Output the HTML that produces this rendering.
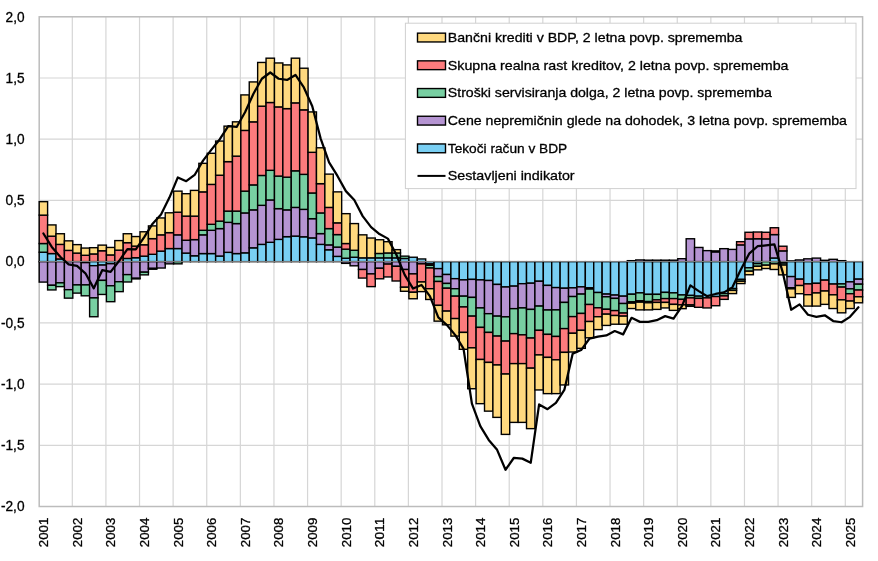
<!DOCTYPE html>
<html lang="sl"><head><meta charset="utf-8"><title>Sestavljeni indikator</title>
<style>html,body{margin:0;padding:0;background:#fff}body{width:878px;height:561px;overflow:hidden}svg{display:block}text{font-family:"Liberation Sans",sans-serif;fill:#000;stroke:#000;stroke-width:0.3px}</style></head><body>
<svg width="878" height="561" viewBox="0 0 878 561">
<rect width="878" height="561" fill="#fff"/>
<path d="M39.2 78.01H862.6M39.2 139.22H862.6M39.2 200.44H862.6M39.2 322.86H862.6M39.2 384.07H862.6M39.2 445.29H862.6M72.31 16.8V506.5M105.92 16.8V506.5M139.52 16.8V506.5M173.13 16.8V506.5M206.74 16.8V506.5M240.35 16.8V506.5M273.96 16.8V506.5M307.57 16.8V506.5M341.17 16.8V506.5M374.78 16.8V506.5M408.39 16.8V506.5M442 16.8V506.5M475.61 16.8V506.5M509.21 16.8V506.5M542.82 16.8V506.5M576.43 16.8V506.5M610.04 16.8V506.5M643.65 16.8V506.5M677.26 16.8V506.5M710.86 16.8V506.5M744.47 16.8V506.5M778.08 16.8V506.5M811.69 16.8V506.5M845.3 16.8V506.5" stroke="#d6d6d6" stroke-width="1.2" fill="none"/>
<rect x="39.2" y="16.8" width="823.4" height="489.7" fill="none" stroke="#bcbcbc" stroke-width="1.5"/>
<g stroke="#000" stroke-width="1.4" stroke-linejoin="miter">
<rect x="39.2" y="252.22" width="8.4" height="9.43" fill="#79CFF3"/>
<rect x="39.2" y="243.53" width="8.4" height="8.69" fill="#78CFA2"/>
<rect x="39.2" y="215.13" width="8.4" height="28.4" fill="#FC7B7D"/>
<rect x="39.2" y="201.66" width="8.4" height="13.47" fill="#FFD97F"/>
<rect x="39.2" y="261.65" width="8.4" height="20.44" fill="#B594D2"/>
<rect x="47.6" y="253.57" width="8.4" height="8.08" fill="#79CFF3"/>
<rect x="47.6" y="236.19" width="8.4" height="17.38" fill="#FC7B7D"/>
<rect x="47.6" y="224.92" width="8.4" height="11.26" fill="#FFD97F"/>
<rect x="47.6" y="261.65" width="8.4" height="23.63" fill="#B594D2"/>
<rect x="47.6" y="285.28" width="8.4" height="4.65" fill="#78CFA2"/>
<rect x="56" y="258.96" width="8.4" height="2.69" fill="#79CFF3"/>
<rect x="56" y="244.39" width="8.4" height="14.57" fill="#FC7B7D"/>
<rect x="56" y="233.74" width="8.4" height="10.65" fill="#FFD97F"/>
<rect x="56" y="261.65" width="8.4" height="21.18" fill="#B594D2"/>
<rect x="56" y="282.83" width="8.4" height="3.8" fill="#78CFA2"/>
<rect x="64.41" y="250.39" width="8.4" height="11.26" fill="#FC7B7D"/>
<rect x="64.41" y="240.84" width="8.4" height="9.55" fill="#FFD97F"/>
<rect x="64.41" y="261.65" width="8.4" height="28.04" fill="#B594D2"/>
<rect x="64.41" y="289.69" width="8.4" height="8.45" fill="#78CFA2"/>
<rect x="72.81" y="253.08" width="8.4" height="8.57" fill="#FC7B7D"/>
<rect x="72.81" y="244.63" width="8.4" height="8.45" fill="#FFD97F"/>
<rect x="72.81" y="261.65" width="8.4" height="23.26" fill="#B594D2"/>
<rect x="72.81" y="284.91" width="8.4" height="8.2" fill="#78CFA2"/>
<rect x="81.21" y="255.28" width="8.4" height="6.37" fill="#FC7B7D"/>
<rect x="81.21" y="248.06" width="8.4" height="7.22" fill="#FFD97F"/>
<rect x="81.21" y="261.65" width="8.4" height="0.98" fill="#79CFF3"/>
<rect x="81.21" y="262.63" width="8.4" height="22.28" fill="#B594D2"/>
<rect x="81.21" y="284.91" width="8.4" height="10.9" fill="#78CFA2"/>
<rect x="89.61" y="253.94" width="8.4" height="7.71" fill="#FC7B7D"/>
<rect x="89.61" y="247.69" width="8.4" height="6.24" fill="#FFD97F"/>
<rect x="89.61" y="261.65" width="8.4" height="4.04" fill="#79CFF3"/>
<rect x="89.61" y="265.69" width="8.4" height="32.2" fill="#B594D2"/>
<rect x="89.61" y="297.89" width="8.4" height="18.85" fill="#78CFA2"/>
<rect x="98.01" y="250.75" width="8.4" height="10.9" fill="#FC7B7D"/>
<rect x="98.01" y="245.12" width="8.4" height="5.63" fill="#FFD97F"/>
<rect x="98.01" y="261.65" width="8.4" height="3.43" fill="#79CFF3"/>
<rect x="98.01" y="265.08" width="8.4" height="15.3" fill="#B594D2"/>
<rect x="98.01" y="280.38" width="8.4" height="14.08" fill="#78CFA2"/>
<rect x="106.42" y="254.92" width="8.4" height="6.73" fill="#FC7B7D"/>
<rect x="106.42" y="247.45" width="8.4" height="7.47" fill="#FFD97F"/>
<rect x="106.42" y="261.65" width="8.4" height="2.08" fill="#79CFF3"/>
<rect x="106.42" y="263.73" width="8.4" height="22.04" fill="#B594D2"/>
<rect x="106.42" y="285.77" width="8.4" height="15.92" fill="#78CFA2"/>
<rect x="114.82" y="250.14" width="8.4" height="11.51" fill="#FC7B7D"/>
<rect x="114.82" y="240.59" width="8.4" height="9.55" fill="#FFD97F"/>
<rect x="114.82" y="261.65" width="8.4" height="20.08" fill="#B594D2"/>
<rect x="114.82" y="281.73" width="8.4" height="9.92" fill="#78CFA2"/>
<rect x="123.22" y="258.47" width="8.4" height="3.18" fill="#79CFF3"/>
<rect x="123.22" y="242.67" width="8.4" height="15.79" fill="#FC7B7D"/>
<rect x="123.22" y="233.74" width="8.4" height="8.94" fill="#FFD97F"/>
<rect x="123.22" y="261.65" width="8.4" height="12.98" fill="#B594D2"/>
<rect x="123.22" y="274.63" width="8.4" height="7.35" fill="#78CFA2"/>
<rect x="131.62" y="257.73" width="8.4" height="3.92" fill="#79CFF3"/>
<rect x="131.62" y="246.1" width="8.4" height="11.63" fill="#FC7B7D"/>
<rect x="131.62" y="236.55" width="8.4" height="9.55" fill="#FFD97F"/>
<rect x="131.62" y="261.65" width="8.4" height="16.65" fill="#B594D2"/>
<rect x="131.62" y="278.3" width="8.4" height="0.61" fill="#78CFA2"/>
<rect x="140.02" y="256.14" width="8.4" height="5.51" fill="#79CFF3"/>
<rect x="140.02" y="244.76" width="8.4" height="11.39" fill="#FC7B7D"/>
<rect x="140.02" y="231.78" width="8.4" height="12.98" fill="#FFD97F"/>
<rect x="140.02" y="261.65" width="8.4" height="10.53" fill="#B594D2"/>
<rect x="140.02" y="272.18" width="8.4" height="2.69" fill="#78CFA2"/>
<rect x="148.43" y="254.3" width="8.4" height="7.35" fill="#79CFF3"/>
<rect x="148.43" y="238.63" width="8.4" height="15.67" fill="#FC7B7D"/>
<rect x="148.43" y="225.9" width="8.4" height="12.73" fill="#FFD97F"/>
<rect x="148.43" y="261.65" width="8.4" height="6.73" fill="#B594D2"/>
<rect x="148.43" y="268.38" width="8.4" height="0.86" fill="#78CFA2"/>
<rect x="156.83" y="251.12" width="8.4" height="10.53" fill="#79CFF3"/>
<rect x="156.83" y="234.84" width="8.4" height="16.28" fill="#FC7B7D"/>
<rect x="156.83" y="217.94" width="8.4" height="16.89" fill="#FFD97F"/>
<rect x="156.83" y="261.65" width="8.4" height="6.37" fill="#B594D2"/>
<rect x="165.23" y="248.55" width="8.4" height="13.1" fill="#79CFF3"/>
<rect x="165.23" y="232.64" width="8.4" height="15.92" fill="#FC7B7D"/>
<rect x="165.23" y="212.8" width="8.4" height="19.83" fill="#FFD97F"/>
<rect x="165.23" y="261.65" width="8.4" height="2.2" fill="#B594D2"/>
<rect x="173.63" y="248.55" width="8.4" height="13.1" fill="#79CFF3"/>
<rect x="173.63" y="234.84" width="8.4" height="13.71" fill="#B594D2"/>
<rect x="173.63" y="212.19" width="8.4" height="22.65" fill="#FC7B7D"/>
<rect x="173.63" y="191.13" width="8.4" height="21.06" fill="#FFD97F"/>
<rect x="173.63" y="261.65" width="8.4" height="2.2" fill="#78CFA2"/>
<rect x="182.03" y="253.08" width="8.4" height="8.57" fill="#79CFF3"/>
<rect x="182.03" y="240.23" width="8.4" height="12.85" fill="#B594D2"/>
<rect x="182.03" y="216.11" width="8.4" height="24.12" fill="#FC7B7D"/>
<rect x="182.03" y="193.7" width="8.4" height="22.4" fill="#FFD97F"/>
<rect x="190.44" y="255.77" width="8.4" height="5.88" fill="#79CFF3"/>
<rect x="190.44" y="239.61" width="8.4" height="16.16" fill="#B594D2"/>
<rect x="190.44" y="216.11" width="8.4" height="23.51" fill="#FC7B7D"/>
<rect x="190.44" y="190.4" width="8.4" height="25.71" fill="#FFD97F"/>
<rect x="198.84" y="253.57" width="8.4" height="8.08" fill="#79CFF3"/>
<rect x="198.84" y="234.84" width="8.4" height="18.73" fill="#B594D2"/>
<rect x="198.84" y="230.31" width="8.4" height="4.53" fill="#78CFA2"/>
<rect x="198.84" y="191.87" width="8.4" height="38.44" fill="#FC7B7D"/>
<rect x="198.84" y="163.34" width="8.4" height="28.53" fill="#FFD97F"/>
<rect x="207.24" y="253.57" width="8.4" height="8.08" fill="#79CFF3"/>
<rect x="207.24" y="230.31" width="8.4" height="23.26" fill="#B594D2"/>
<rect x="207.24" y="224.31" width="8.4" height="6" fill="#78CFA2"/>
<rect x="207.24" y="184.4" width="8.4" height="39.91" fill="#FC7B7D"/>
<rect x="207.24" y="153.3" width="8.4" height="31.1" fill="#FFD97F"/>
<rect x="215.64" y="256.02" width="8.4" height="5.63" fill="#79CFF3"/>
<rect x="215.64" y="228.6" width="8.4" height="27.42" fill="#B594D2"/>
<rect x="215.64" y="221.13" width="8.4" height="7.47" fill="#78CFA2"/>
<rect x="215.64" y="175.22" width="8.4" height="45.91" fill="#FC7B7D"/>
<rect x="215.64" y="141.06" width="8.4" height="34.16" fill="#FFD97F"/>
<rect x="224.04" y="252.35" width="8.4" height="9.3" fill="#79CFF3"/>
<rect x="224.04" y="222.35" width="8.4" height="29.99" fill="#B594D2"/>
<rect x="224.04" y="211.09" width="8.4" height="11.26" fill="#78CFA2"/>
<rect x="224.04" y="161.63" width="8.4" height="49.46" fill="#FC7B7D"/>
<rect x="224.04" y="126.13" width="8.4" height="35.5" fill="#FFD97F"/>
<rect x="232.45" y="253.57" width="8.4" height="8.08" fill="#79CFF3"/>
<rect x="232.45" y="223.58" width="8.4" height="29.99" fill="#B594D2"/>
<rect x="232.45" y="211.09" width="8.4" height="12.49" fill="#78CFA2"/>
<rect x="232.45" y="156.12" width="8.4" height="54.97" fill="#FC7B7D"/>
<rect x="232.45" y="121.84" width="8.4" height="34.28" fill="#FFD97F"/>
<rect x="240.85" y="252.84" width="8.4" height="8.81" fill="#79CFF3"/>
<rect x="240.85" y="212.92" width="8.4" height="39.91" fill="#B594D2"/>
<rect x="240.85" y="191.13" width="8.4" height="21.79" fill="#78CFA2"/>
<rect x="240.85" y="130.41" width="8.4" height="60.72" fill="#FC7B7D"/>
<rect x="240.85" y="94.91" width="8.4" height="35.5" fill="#FFD97F"/>
<rect x="249.25" y="247.82" width="8.4" height="13.83" fill="#79CFF3"/>
<rect x="249.25" y="209.86" width="8.4" height="37.95" fill="#B594D2"/>
<rect x="249.25" y="184.89" width="8.4" height="24.97" fill="#78CFA2"/>
<rect x="249.25" y="121.84" width="8.4" height="63.05" fill="#FC7B7D"/>
<rect x="249.25" y="81.93" width="8.4" height="39.91" fill="#FFD97F"/>
<rect x="257.65" y="244.39" width="8.4" height="17.26" fill="#79CFF3"/>
<rect x="257.65" y="205.33" width="8.4" height="39.05" fill="#B594D2"/>
<rect x="257.65" y="175.46" width="8.4" height="29.87" fill="#78CFA2"/>
<rect x="257.65" y="106.17" width="8.4" height="69.29" fill="#FC7B7D"/>
<rect x="257.65" y="62.46" width="8.4" height="43.71" fill="#FFD97F"/>
<rect x="266.06" y="242.31" width="8.4" height="19.34" fill="#79CFF3"/>
<rect x="266.06" y="199.95" width="8.4" height="42.36" fill="#B594D2"/>
<rect x="266.06" y="170.32" width="8.4" height="29.63" fill="#78CFA2"/>
<rect x="266.06" y="102.5" width="8.4" height="67.82" fill="#FC7B7D"/>
<rect x="266.06" y="58.18" width="8.4" height="44.32" fill="#FFD97F"/>
<rect x="274.46" y="239.37" width="8.4" height="22.28" fill="#79CFF3"/>
<rect x="274.46" y="208.64" width="8.4" height="30.73" fill="#B594D2"/>
<rect x="274.46" y="176.07" width="8.4" height="32.57" fill="#78CFA2"/>
<rect x="274.46" y="106.9" width="8.4" height="69.17" fill="#FC7B7D"/>
<rect x="274.46" y="62.95" width="8.4" height="43.95" fill="#FFD97F"/>
<rect x="282.86" y="236.68" width="8.4" height="24.97" fill="#79CFF3"/>
<rect x="282.86" y="209.86" width="8.4" height="26.81" fill="#B594D2"/>
<rect x="282.86" y="177.18" width="8.4" height="32.69" fill="#78CFA2"/>
<rect x="282.86" y="108.62" width="8.4" height="68.56" fill="#FC7B7D"/>
<rect x="282.86" y="64.91" width="8.4" height="43.71" fill="#FFD97F"/>
<rect x="291.26" y="236.06" width="8.4" height="25.59" fill="#79CFF3"/>
<rect x="291.26" y="207.42" width="8.4" height="28.65" fill="#B594D2"/>
<rect x="291.26" y="170.81" width="8.4" height="36.61" fill="#78CFA2"/>
<rect x="291.26" y="102.86" width="8.4" height="67.95" fill="#FC7B7D"/>
<rect x="291.26" y="58.18" width="8.4" height="44.69" fill="#FFD97F"/>
<rect x="299.66" y="236.8" width="8.4" height="24.85" fill="#79CFF3"/>
<rect x="299.66" y="209.37" width="8.4" height="27.42" fill="#B594D2"/>
<rect x="299.66" y="174.36" width="8.4" height="35.01" fill="#78CFA2"/>
<rect x="299.66" y="109.84" width="8.4" height="64.52" fill="#FC7B7D"/>
<rect x="299.66" y="68.22" width="8.4" height="41.62" fill="#FFD97F"/>
<rect x="308.07" y="237.9" width="8.4" height="23.75" fill="#79CFF3"/>
<rect x="308.07" y="218.68" width="8.4" height="19.22" fill="#B594D2"/>
<rect x="308.07" y="192.97" width="8.4" height="25.71" fill="#78CFA2"/>
<rect x="308.07" y="152.32" width="8.4" height="40.65" fill="#FC7B7D"/>
<rect x="308.07" y="111.92" width="8.4" height="40.4" fill="#FFD97F"/>
<rect x="316.47" y="244.39" width="8.4" height="17.26" fill="#79CFF3"/>
<rect x="316.47" y="233.61" width="8.4" height="10.77" fill="#B594D2"/>
<rect x="316.47" y="212.92" width="8.4" height="20.69" fill="#78CFA2"/>
<rect x="316.47" y="183.67" width="8.4" height="29.26" fill="#FC7B7D"/>
<rect x="316.47" y="147.79" width="8.4" height="35.87" fill="#FFD97F"/>
<rect x="324.87" y="249.77" width="8.4" height="11.88" fill="#79CFF3"/>
<rect x="324.87" y="244.88" width="8.4" height="4.9" fill="#B594D2"/>
<rect x="324.87" y="228.6" width="8.4" height="16.28" fill="#78CFA2"/>
<rect x="324.87" y="207.42" width="8.4" height="21.18" fill="#FC7B7D"/>
<rect x="324.87" y="174.12" width="8.4" height="33.3" fill="#FFD97F"/>
<rect x="333.27" y="256.39" width="8.4" height="5.26" fill="#79CFF3"/>
<rect x="333.27" y="247.08" width="8.4" height="9.3" fill="#B594D2"/>
<rect x="333.27" y="234.59" width="8.4" height="12.49" fill="#78CFA2"/>
<rect x="333.27" y="222.84" width="8.4" height="11.75" fill="#FC7B7D"/>
<rect x="333.27" y="191.87" width="8.4" height="30.97" fill="#FFD97F"/>
<rect x="341.67" y="258.22" width="8.4" height="3.43" fill="#79CFF3"/>
<rect x="341.67" y="249.16" width="8.4" height="9.06" fill="#78CFA2"/>
<rect x="341.67" y="243.53" width="8.4" height="5.63" fill="#FC7B7D"/>
<rect x="341.67" y="213.66" width="8.4" height="29.87" fill="#FFD97F"/>
<rect x="341.67" y="261.65" width="8.4" height="1.71" fill="#B594D2"/>
<rect x="350.08" y="257.24" width="8.4" height="4.41" fill="#79CFF3"/>
<rect x="350.08" y="250.26" width="8.4" height="6.98" fill="#78CFA2"/>
<rect x="350.08" y="223.58" width="8.4" height="26.69" fill="#FFD97F"/>
<rect x="350.08" y="261.65" width="8.4" height="4.16" fill="#B594D2"/>
<rect x="358.48" y="257.85" width="8.4" height="3.8" fill="#79CFF3"/>
<rect x="358.48" y="234.84" width="8.4" height="23.02" fill="#FFD97F"/>
<rect x="358.48" y="261.65" width="8.4" height="7.84" fill="#B594D2"/>
<rect x="358.48" y="269.49" width="8.4" height="8.57" fill="#FC7B7D"/>
<rect x="366.88" y="257.85" width="8.4" height="3.8" fill="#79CFF3"/>
<rect x="366.88" y="238.02" width="8.4" height="19.83" fill="#FFD97F"/>
<rect x="366.88" y="261.65" width="8.4" height="12.24" fill="#B594D2"/>
<rect x="366.88" y="273.89" width="8.4" height="12.73" fill="#FC7B7D"/>
<rect x="375.28" y="257.85" width="8.4" height="3.8" fill="#79CFF3"/>
<rect x="375.28" y="253.45" width="8.4" height="4.41" fill="#78CFA2"/>
<rect x="375.28" y="239.74" width="8.4" height="13.71" fill="#FFD97F"/>
<rect x="375.28" y="261.65" width="8.4" height="6.61" fill="#B594D2"/>
<rect x="375.28" y="268.26" width="8.4" height="10.53" fill="#FC7B7D"/>
<rect x="383.68" y="257.85" width="8.4" height="3.8" fill="#79CFF3"/>
<rect x="383.68" y="252.96" width="8.4" height="4.9" fill="#78CFA2"/>
<rect x="383.68" y="241.69" width="8.4" height="11.26" fill="#FFD97F"/>
<rect x="383.68" y="261.65" width="8.4" height="2.45" fill="#B594D2"/>
<rect x="383.68" y="264.1" width="8.4" height="12.85" fill="#FC7B7D"/>
<rect x="392.09" y="257.85" width="8.4" height="3.8" fill="#79CFF3"/>
<rect x="392.09" y="252.96" width="8.4" height="4.9" fill="#78CFA2"/>
<rect x="392.09" y="249.65" width="8.4" height="3.31" fill="#FFD97F"/>
<rect x="392.09" y="261.65" width="8.4" height="4.65" fill="#B594D2"/>
<rect x="392.09" y="266.3" width="8.4" height="14.69" fill="#FC7B7D"/>
<rect x="400.49" y="258.47" width="8.4" height="3.18" fill="#79CFF3"/>
<rect x="400.49" y="256.14" width="8.4" height="2.33" fill="#78CFA2"/>
<rect x="400.49" y="261.65" width="8.4" height="7.84" fill="#B594D2"/>
<rect x="400.49" y="269.49" width="8.4" height="17.75" fill="#FC7B7D"/>
<rect x="400.49" y="287.24" width="8.4" height="4.04" fill="#FFD97F"/>
<rect x="408.89" y="257.24" width="8.4" height="4.41" fill="#79CFF3"/>
<rect x="408.89" y="261.65" width="8.4" height="12.24" fill="#B594D2"/>
<rect x="408.89" y="273.89" width="8.4" height="18.36" fill="#FC7B7D"/>
<rect x="408.89" y="292.26" width="8.4" height="6.49" fill="#FFD97F"/>
<rect x="417.29" y="258.96" width="8.4" height="2.69" fill="#79CFF3"/>
<rect x="417.29" y="261.65" width="8.4" height="2.2" fill="#B594D2"/>
<rect x="417.29" y="263.85" width="8.4" height="18.12" fill="#FC7B7D"/>
<rect x="417.29" y="281.97" width="8.4" height="9.67" fill="#FFD97F"/>
<rect x="425.69" y="261.65" width="8.4" height="2.2" fill="#79CFF3"/>
<rect x="425.69" y="263.85" width="8.4" height="1.47" fill="#B594D2"/>
<rect x="425.69" y="265.32" width="8.4" height="2.69" fill="#78CFA2"/>
<rect x="425.69" y="268.02" width="8.4" height="20.69" fill="#FC7B7D"/>
<rect x="425.69" y="288.71" width="8.4" height="10.77" fill="#FFD97F"/>
<rect x="434.1" y="261.65" width="8.4" height="6.98" fill="#79CFF3"/>
<rect x="434.1" y="268.63" width="8.4" height="7.96" fill="#B594D2"/>
<rect x="434.1" y="276.59" width="8.4" height="4.9" fill="#78CFA2"/>
<rect x="434.1" y="281.48" width="8.4" height="23.87" fill="#FC7B7D"/>
<rect x="434.1" y="305.36" width="8.4" height="15.79" fill="#FFD97F"/>
<rect x="442.5" y="261.65" width="8.4" height="12.85" fill="#79CFF3"/>
<rect x="442.5" y="274.5" width="8.4" height="8.94" fill="#B594D2"/>
<rect x="442.5" y="283.44" width="8.4" height="4.77" fill="#78CFA2"/>
<rect x="442.5" y="288.22" width="8.4" height="22.89" fill="#FC7B7D"/>
<rect x="442.5" y="311.11" width="8.4" height="13.71" fill="#FFD97F"/>
<rect x="450.9" y="261.65" width="8.4" height="17.02" fill="#79CFF3"/>
<rect x="450.9" y="278.67" width="8.4" height="10.04" fill="#B594D2"/>
<rect x="450.9" y="288.71" width="8.4" height="7.47" fill="#78CFA2"/>
<rect x="450.9" y="296.17" width="8.4" height="22.4" fill="#FC7B7D"/>
<rect x="450.9" y="318.58" width="8.4" height="17.51" fill="#FFD97F"/>
<rect x="459.3" y="261.65" width="8.4" height="18.24" fill="#79CFF3"/>
<rect x="459.3" y="279.89" width="8.4" height="16.28" fill="#B594D2"/>
<rect x="459.3" y="296.17" width="8.4" height="10.77" fill="#78CFA2"/>
<rect x="459.3" y="306.95" width="8.4" height="25.46" fill="#FC7B7D"/>
<rect x="459.3" y="332.41" width="8.4" height="16.89" fill="#FFD97F"/>
<rect x="467.7" y="261.65" width="8.4" height="17.75" fill="#79CFF3"/>
<rect x="467.7" y="279.4" width="8.4" height="18" fill="#B594D2"/>
<rect x="467.7" y="297.4" width="8.4" height="18.73" fill="#78CFA2"/>
<rect x="467.7" y="316.13" width="8.4" height="31.71" fill="#FC7B7D"/>
<rect x="467.7" y="347.84" width="8.4" height="40.89" fill="#FFD97F"/>
<rect x="476.11" y="261.65" width="8.4" height="18.24" fill="#79CFF3"/>
<rect x="476.11" y="279.89" width="8.4" height="28.04" fill="#B594D2"/>
<rect x="476.11" y="307.93" width="8.4" height="19.47" fill="#78CFA2"/>
<rect x="476.11" y="327.39" width="8.4" height="32.08" fill="#FC7B7D"/>
<rect x="476.11" y="359.47" width="8.4" height="44.2" fill="#FFD97F"/>
<rect x="484.51" y="261.65" width="8.4" height="18.85" fill="#79CFF3"/>
<rect x="484.51" y="280.5" width="8.4" height="33.18" fill="#B594D2"/>
<rect x="484.51" y="313.68" width="8.4" height="18.73" fill="#78CFA2"/>
<rect x="484.51" y="332.41" width="8.4" height="29.99" fill="#FC7B7D"/>
<rect x="484.51" y="362.41" width="8.4" height="48.73" fill="#FFD97F"/>
<rect x="492.91" y="261.65" width="8.4" height="22.77" fill="#79CFF3"/>
<rect x="492.91" y="284.42" width="8.4" height="31.71" fill="#B594D2"/>
<rect x="492.91" y="316.13" width="8.4" height="19.96" fill="#78CFA2"/>
<rect x="492.91" y="336.08" width="8.4" height="28.89" fill="#FC7B7D"/>
<rect x="492.91" y="364.98" width="8.4" height="52.4" fill="#FFD97F"/>
<rect x="501.31" y="261.65" width="8.4" height="25.34" fill="#79CFF3"/>
<rect x="501.31" y="286.99" width="8.4" height="29.87" fill="#B594D2"/>
<rect x="501.31" y="316.86" width="8.4" height="24.24" fill="#78CFA2"/>
<rect x="501.31" y="341.1" width="8.4" height="32.93" fill="#FC7B7D"/>
<rect x="501.31" y="374.04" width="8.4" height="60.36" fill="#FFD97F"/>
<rect x="509.71" y="261.65" width="8.4" height="24.49" fill="#79CFF3"/>
<rect x="509.71" y="286.13" width="8.4" height="22.53" fill="#B594D2"/>
<rect x="509.71" y="308.66" width="8.4" height="24.97" fill="#78CFA2"/>
<rect x="509.71" y="333.64" width="8.4" height="29.99" fill="#FC7B7D"/>
<rect x="509.71" y="363.63" width="8.4" height="58.76" fill="#FFD97F"/>
<rect x="518.12" y="261.65" width="8.4" height="22.04" fill="#79CFF3"/>
<rect x="518.12" y="283.69" width="8.4" height="24.24" fill="#B594D2"/>
<rect x="518.12" y="307.93" width="8.4" height="26.93" fill="#78CFA2"/>
<rect x="518.12" y="334.86" width="8.4" height="28.77" fill="#FC7B7D"/>
<rect x="518.12" y="363.63" width="8.4" height="58.76" fill="#FFD97F"/>
<rect x="526.52" y="261.65" width="8.4" height="21.55" fill="#79CFF3"/>
<rect x="526.52" y="283.2" width="8.4" height="26.2" fill="#B594D2"/>
<rect x="526.52" y="309.4" width="8.4" height="28.65" fill="#78CFA2"/>
<rect x="526.52" y="338.04" width="8.4" height="30.12" fill="#FC7B7D"/>
<rect x="526.52" y="368.16" width="8.4" height="60.48" fill="#FFD97F"/>
<rect x="534.92" y="261.65" width="8.4" height="19.59" fill="#79CFF3"/>
<rect x="534.92" y="281.24" width="8.4" height="24.85" fill="#B594D2"/>
<rect x="534.92" y="306.09" width="8.4" height="24.24" fill="#78CFA2"/>
<rect x="534.92" y="330.33" width="8.4" height="24.61" fill="#FC7B7D"/>
<rect x="534.92" y="354.94" width="8.4" height="35.01" fill="#FFD97F"/>
<rect x="543.32" y="261.65" width="8.4" height="23.75" fill="#79CFF3"/>
<rect x="543.32" y="285.4" width="8.4" height="24.61" fill="#B594D2"/>
<rect x="543.32" y="310.01" width="8.4" height="24.36" fill="#78CFA2"/>
<rect x="543.32" y="334.37" width="8.4" height="23.02" fill="#FC7B7D"/>
<rect x="543.32" y="357.39" width="8.4" height="36.24" fill="#FFD97F"/>
<rect x="551.72" y="261.65" width="8.4" height="25.95" fill="#79CFF3"/>
<rect x="551.72" y="287.6" width="8.4" height="22.28" fill="#B594D2"/>
<rect x="551.72" y="309.89" width="8.4" height="26.57" fill="#78CFA2"/>
<rect x="551.72" y="336.45" width="8.4" height="23.38" fill="#FC7B7D"/>
<rect x="551.72" y="359.83" width="8.4" height="33.79" fill="#FFD97F"/>
<rect x="560.13" y="261.65" width="8.4" height="26.57" fill="#79CFF3"/>
<rect x="560.13" y="288.22" width="8.4" height="14.2" fill="#B594D2"/>
<rect x="560.13" y="302.42" width="8.4" height="26.2" fill="#78CFA2"/>
<rect x="560.13" y="328.62" width="8.4" height="23.75" fill="#FC7B7D"/>
<rect x="560.13" y="352.37" width="8.4" height="32.57" fill="#FFD97F"/>
<rect x="568.53" y="261.65" width="8.4" height="26.2" fill="#79CFF3"/>
<rect x="568.53" y="287.85" width="8.4" height="8.69" fill="#B594D2"/>
<rect x="568.53" y="296.54" width="8.4" height="20.08" fill="#78CFA2"/>
<rect x="568.53" y="316.62" width="8.4" height="16.65" fill="#FC7B7D"/>
<rect x="568.53" y="333.27" width="8.4" height="18.73" fill="#FFD97F"/>
<rect x="576.93" y="261.65" width="8.4" height="25.22" fill="#79CFF3"/>
<rect x="576.93" y="286.87" width="8.4" height="7.22" fill="#B594D2"/>
<rect x="576.93" y="294.09" width="8.4" height="19.34" fill="#78CFA2"/>
<rect x="576.93" y="313.44" width="8.4" height="16.89" fill="#FC7B7D"/>
<rect x="576.93" y="330.33" width="8.4" height="18" fill="#FFD97F"/>
<rect x="585.33" y="261.65" width="8.4" height="26.2" fill="#79CFF3"/>
<rect x="585.33" y="287.85" width="8.4" height="1.22" fill="#B594D2"/>
<rect x="585.33" y="289.07" width="8.4" height="15.43" fill="#78CFA2"/>
<rect x="585.33" y="304.5" width="8.4" height="17.02" fill="#FC7B7D"/>
<rect x="585.33" y="321.52" width="8.4" height="16.28" fill="#FFD97F"/>
<rect x="593.73" y="261.65" width="8.4" height="30.85" fill="#79CFF3"/>
<rect x="593.73" y="292.5" width="8.4" height="15.3" fill="#78CFA2"/>
<rect x="593.73" y="307.8" width="8.4" height="8.94" fill="#FC7B7D"/>
<rect x="593.73" y="316.74" width="8.4" height="12.85" fill="#FFD97F"/>
<rect x="602.14" y="261.65" width="8.4" height="32.44" fill="#79CFF3"/>
<rect x="602.14" y="294.09" width="8.4" height="2.69" fill="#B594D2"/>
<rect x="602.14" y="296.79" width="8.4" height="12.49" fill="#78CFA2"/>
<rect x="602.14" y="309.27" width="8.4" height="4.9" fill="#FC7B7D"/>
<rect x="602.14" y="314.17" width="8.4" height="11.26" fill="#FFD97F"/>
<rect x="610.54" y="261.65" width="8.4" height="33.42" fill="#79CFF3"/>
<rect x="610.54" y="295.07" width="8.4" height="3.31" fill="#B594D2"/>
<rect x="610.54" y="298.38" width="8.4" height="12.24" fill="#78CFA2"/>
<rect x="610.54" y="310.62" width="8.4" height="4.9" fill="#FC7B7D"/>
<rect x="610.54" y="315.52" width="8.4" height="8.69" fill="#FFD97F"/>
<rect x="618.94" y="261.65" width="8.4" height="34.52" fill="#79CFF3"/>
<rect x="618.94" y="296.17" width="8.4" height="7.35" fill="#B594D2"/>
<rect x="618.94" y="303.52" width="8.4" height="9.55" fill="#78CFA2"/>
<rect x="618.94" y="313.07" width="8.4" height="3.06" fill="#FC7B7D"/>
<rect x="618.94" y="316.13" width="8.4" height="8.08" fill="#FFD97F"/>
<rect x="627.34" y="260.67" width="8.4" height="0.98" fill="#B594D2"/>
<rect x="627.34" y="261.65" width="8.4" height="32.57" fill="#79CFF3"/>
<rect x="627.34" y="294.22" width="8.4" height="7.59" fill="#78CFA2"/>
<rect x="627.34" y="301.81" width="8.4" height="1.35" fill="#FC7B7D"/>
<rect x="627.34" y="303.15" width="8.4" height="5.39" fill="#FFD97F"/>
<rect x="635.74" y="259.94" width="8.4" height="1.71" fill="#B594D2"/>
<rect x="635.74" y="261.65" width="8.4" height="31.22" fill="#79CFF3"/>
<rect x="635.74" y="292.87" width="8.4" height="7.96" fill="#78CFA2"/>
<rect x="635.74" y="300.83" width="8.4" height="1.35" fill="#FC7B7D"/>
<rect x="635.74" y="302.17" width="8.4" height="7.71" fill="#FFD97F"/>
<rect x="644.15" y="260.18" width="8.4" height="1.47" fill="#B594D2"/>
<rect x="644.15" y="261.65" width="8.4" height="32.69" fill="#79CFF3"/>
<rect x="644.15" y="294.34" width="8.4" height="7.22" fill="#78CFA2"/>
<rect x="644.15" y="301.56" width="8.4" height="1.22" fill="#FC7B7D"/>
<rect x="644.15" y="302.78" width="8.4" height="7.1" fill="#FFD97F"/>
<rect x="652.55" y="260.18" width="8.4" height="1.47" fill="#B594D2"/>
<rect x="652.55" y="261.65" width="8.4" height="32.69" fill="#79CFF3"/>
<rect x="652.55" y="294.34" width="8.4" height="5.51" fill="#78CFA2"/>
<rect x="652.55" y="299.85" width="8.4" height="2.57" fill="#FC7B7D"/>
<rect x="652.55" y="302.42" width="8.4" height="6.98" fill="#FFD97F"/>
<rect x="660.95" y="260.18" width="8.4" height="1.47" fill="#B594D2"/>
<rect x="660.95" y="261.65" width="8.4" height="30.73" fill="#79CFF3"/>
<rect x="660.95" y="292.38" width="8.4" height="6.24" fill="#78CFA2"/>
<rect x="660.95" y="298.62" width="8.4" height="3.8" fill="#FC7B7D"/>
<rect x="660.95" y="302.42" width="8.4" height="5.51" fill="#FFD97F"/>
<rect x="669.35" y="260.18" width="8.4" height="1.47" fill="#B594D2"/>
<rect x="669.35" y="261.65" width="8.4" height="31.22" fill="#79CFF3"/>
<rect x="669.35" y="292.87" width="8.4" height="5.75" fill="#78CFA2"/>
<rect x="669.35" y="298.62" width="8.4" height="5.75" fill="#FC7B7D"/>
<rect x="669.35" y="304.38" width="8.4" height="6" fill="#FFD97F"/>
<rect x="677.76" y="258.71" width="8.4" height="2.94" fill="#B594D2"/>
<rect x="677.76" y="261.65" width="8.4" height="33.3" fill="#79CFF3"/>
<rect x="677.76" y="294.95" width="8.4" height="4.41" fill="#78CFA2"/>
<rect x="677.76" y="299.36" width="8.4" height="5.51" fill="#FC7B7D"/>
<rect x="677.76" y="304.87" width="8.4" height="3.8" fill="#FFD97F"/>
<rect x="686.16" y="238.76" width="8.4" height="22.89" fill="#B594D2"/>
<rect x="686.16" y="261.65" width="8.4" height="33.79" fill="#79CFF3"/>
<rect x="686.16" y="295.44" width="8.4" height="2.45" fill="#78CFA2"/>
<rect x="686.16" y="297.89" width="8.4" height="6.98" fill="#FC7B7D"/>
<rect x="686.16" y="304.87" width="8.4" height="1.47" fill="#FFD97F"/>
<rect x="694.56" y="247.45" width="8.4" height="14.2" fill="#B594D2"/>
<rect x="694.56" y="261.65" width="8.4" height="34.52" fill="#79CFF3"/>
<rect x="694.56" y="296.17" width="8.4" height="2.2" fill="#78CFA2"/>
<rect x="694.56" y="298.38" width="8.4" height="8.94" fill="#FC7B7D"/>
<rect x="702.96" y="250.63" width="8.4" height="11.02" fill="#B594D2"/>
<rect x="702.96" y="261.65" width="8.4" height="36.24" fill="#79CFF3"/>
<rect x="702.96" y="297.89" width="8.4" height="10.04" fill="#FC7B7D"/>
<rect x="711.36" y="251.86" width="8.4" height="9.79" fill="#B594D2"/>
<rect x="711.36" y="250.88" width="8.4" height="0.98" fill="#FFD97F"/>
<rect x="711.36" y="261.65" width="8.4" height="34.89" fill="#79CFF3"/>
<rect x="711.36" y="296.54" width="8.4" height="9.18" fill="#FC7B7D"/>
<rect x="719.77" y="248.67" width="8.4" height="12.98" fill="#B594D2"/>
<rect x="719.77" y="261.65" width="8.4" height="31.95" fill="#79CFF3"/>
<rect x="719.77" y="293.6" width="8.4" height="2.33" fill="#78CFA2"/>
<rect x="719.77" y="295.93" width="8.4" height="3.43" fill="#FC7B7D"/>
<rect x="728.17" y="249.41" width="8.4" height="12.24" fill="#B594D2"/>
<rect x="728.17" y="261.65" width="8.4" height="26.93" fill="#79CFF3"/>
<rect x="728.17" y="288.58" width="8.4" height="1.84" fill="#78CFA2"/>
<rect x="728.17" y="290.42" width="8.4" height="3.18" fill="#FFD97F"/>
<rect x="736.57" y="244.88" width="8.4" height="16.77" fill="#B594D2"/>
<rect x="736.57" y="241.69" width="8.4" height="3.18" fill="#FC7B7D"/>
<rect x="736.57" y="261.65" width="8.4" height="17.75" fill="#79CFF3"/>
<rect x="736.57" y="279.4" width="8.4" height="1.84" fill="#78CFA2"/>
<rect x="736.57" y="281.24" width="8.4" height="2.33" fill="#FFD97F"/>
<rect x="744.97" y="238.88" width="8.4" height="22.77" fill="#B594D2"/>
<rect x="744.97" y="232.27" width="8.4" height="6.61" fill="#FC7B7D"/>
<rect x="744.97" y="261.65" width="8.4" height="6.12" fill="#79CFF3"/>
<rect x="744.97" y="267.77" width="8.4" height="3.43" fill="#78CFA2"/>
<rect x="744.97" y="271.2" width="8.4" height="3.55" fill="#FFD97F"/>
<rect x="753.37" y="238.76" width="8.4" height="22.89" fill="#B594D2"/>
<rect x="753.37" y="232.02" width="8.4" height="6.73" fill="#FC7B7D"/>
<rect x="753.37" y="261.65" width="8.4" height="1.96" fill="#79CFF3"/>
<rect x="753.37" y="263.61" width="8.4" height="2.69" fill="#78CFA2"/>
<rect x="753.37" y="266.3" width="8.4" height="3.55" fill="#FFD97F"/>
<rect x="761.78" y="238.88" width="8.4" height="22.77" fill="#B594D2"/>
<rect x="761.78" y="232.27" width="8.4" height="6.61" fill="#FC7B7D"/>
<rect x="761.78" y="261.65" width="8.4" height="3.55" fill="#78CFA2"/>
<rect x="761.78" y="265.2" width="8.4" height="3.31" fill="#FFD97F"/>
<rect x="770.18" y="257.98" width="8.4" height="3.67" fill="#79CFF3"/>
<rect x="770.18" y="234.59" width="8.4" height="23.38" fill="#B594D2"/>
<rect x="770.18" y="227.74" width="8.4" height="6.86" fill="#FC7B7D"/>
<rect x="770.18" y="261.65" width="8.4" height="2.2" fill="#78CFA2"/>
<rect x="770.18" y="263.85" width="8.4" height="5.63" fill="#FFD97F"/>
<rect x="778.58" y="250.88" width="8.4" height="10.77" fill="#B594D2"/>
<rect x="778.58" y="246.22" width="8.4" height="4.65" fill="#FC7B7D"/>
<rect x="778.58" y="261.65" width="8.4" height="1.47" fill="#79CFF3"/>
<rect x="778.58" y="263.12" width="8.4" height="1.96" fill="#78CFA2"/>
<rect x="778.58" y="265.08" width="8.4" height="9.79" fill="#FFD97F"/>
<rect x="786.98" y="260.92" width="8.4" height="0.73" fill="#FC7B7D"/>
<rect x="786.98" y="261.65" width="8.4" height="14.94" fill="#79CFF3"/>
<rect x="786.98" y="276.59" width="8.4" height="11.14" fill="#B594D2"/>
<rect x="786.98" y="287.73" width="8.4" height="1.1" fill="#78CFA2"/>
<rect x="786.98" y="288.83" width="8.4" height="8.57" fill="#FFD97F"/>
<rect x="795.38" y="259.94" width="8.4" height="1.71" fill="#B594D2"/>
<rect x="795.38" y="261.65" width="8.4" height="17.51" fill="#79CFF3"/>
<rect x="795.38" y="279.16" width="8.4" height="6.37" fill="#FC7B7D"/>
<rect x="795.38" y="285.52" width="8.4" height="8.2" fill="#FFD97F"/>
<rect x="803.79" y="258.83" width="8.4" height="2.82" fill="#B594D2"/>
<rect x="803.79" y="261.65" width="8.4" height="22.28" fill="#79CFF3"/>
<rect x="803.79" y="283.93" width="8.4" height="10.77" fill="#FC7B7D"/>
<rect x="803.79" y="294.7" width="8.4" height="11.39" fill="#FFD97F"/>
<rect x="812.19" y="258.1" width="8.4" height="3.55" fill="#B594D2"/>
<rect x="812.19" y="261.65" width="8.4" height="21.67" fill="#79CFF3"/>
<rect x="812.19" y="283.32" width="8.4" height="9.67" fill="#FC7B7D"/>
<rect x="812.19" y="292.99" width="8.4" height="13.1" fill="#FFD97F"/>
<rect x="820.59" y="260.3" width="8.4" height="1.35" fill="#B594D2"/>
<rect x="820.59" y="261.65" width="8.4" height="18.49" fill="#79CFF3"/>
<rect x="820.59" y="280.14" width="8.4" height="10.9" fill="#FC7B7D"/>
<rect x="820.59" y="291.03" width="8.4" height="13.34" fill="#FFD97F"/>
<rect x="828.99" y="259.32" width="8.4" height="2.33" fill="#B594D2"/>
<rect x="828.99" y="261.65" width="8.4" height="22.4" fill="#79CFF3"/>
<rect x="828.99" y="284.05" width="8.4" height="10.77" fill="#FC7B7D"/>
<rect x="828.99" y="294.83" width="8.4" height="13.71" fill="#FFD97F"/>
<rect x="837.39" y="260.67" width="8.4" height="0.98" fill="#B594D2"/>
<rect x="837.39" y="261.65" width="8.4" height="22.28" fill="#79CFF3"/>
<rect x="837.39" y="283.93" width="8.4" height="3.18" fill="#78CFA2"/>
<rect x="837.39" y="287.11" width="8.4" height="12.73" fill="#FC7B7D"/>
<rect x="837.39" y="299.85" width="8.4" height="12.98" fill="#FFD97F"/>
<rect x="845.8" y="261.65" width="8.4" height="20.2" fill="#79CFF3"/>
<rect x="845.8" y="281.85" width="8.4" height="6.98" fill="#B594D2"/>
<rect x="845.8" y="288.83" width="8.4" height="4.9" fill="#78CFA2"/>
<rect x="845.8" y="293.73" width="8.4" height="7.35" fill="#FC7B7D"/>
<rect x="845.8" y="301.07" width="8.4" height="7.47" fill="#FFD97F"/>
<rect x="854.2" y="261.65" width="8.4" height="17.51" fill="#79CFF3"/>
<rect x="854.2" y="279.16" width="8.4" height="5.02" fill="#B594D2"/>
<rect x="854.2" y="284.18" width="8.4" height="5.88" fill="#78CFA2"/>
<rect x="854.2" y="290.05" width="8.4" height="6.73" fill="#FC7B7D"/>
<rect x="854.2" y="296.79" width="8.4" height="6" fill="#FFD97F"/>
</g>
<path d="M39.2 261.5H862.6" stroke="#d9d9d9" stroke-width="0.7" stroke-opacity="0.8" fill="none"/>
<polyline points="43.4,233.49 51.8,246.96 60.21,256.75 68.61,264.34 77.01,265.93 85.41,273.28 93.81,288.34 102.22,270.22 110.62,271.93 119.02,261.04 127.42,249.04 135.82,249.41 144.23,237.16 152.63,223.7 161.03,214.52 169.43,197.62 177.83,177.42 186.24,181.22 194.64,174.97 203.04,160.65 211.44,149.63 219.84,139.22 228.25,126.13 236.65,126.98 245.05,112.29 253.45,93.68 261.85,78.75 270.26,72.5 278.66,78.75 287.06,79.97 295.46,74.95 303.86,87.44 312.27,106.17 320.67,138.61 329.07,162.36 337.47,175.95 345.87,191.13 354.28,199.95 362.68,216.11 371.08,227.13 379.48,234.1 387.88,238.63 396.29,254.55 404.69,274.87 413.09,288.58 421.49,284.91 429.89,296.17 438.3,317.35 446.7,324.82 455.1,334.86 463.5,348.57 471.91,403.66 480.31,426.07 488.71,439.9 497.11,449.82 505.51,469.77 513.92,457.77 522.32,458.63 530.72,462.79 539.12,404.4 547.52,409.17 555.93,402.93 564.33,389.95 572.73,353.59 581.13,350.04 589.53,338.53 597.94,336.7 606.34,335.47 614.74,331.06 623.14,334.37 631.54,317.84 639.95,321.88 648.35,321.88 656.75,320.17 665.15,316.13 673.55,318.58 681.96,306.09 690.36,285.4 698.76,291.15 707.16,296.17 715.56,293.97 723.97,292.38 732.37,287.36 740.77,269.85 749.17,253.69 757.57,246.22 765.98,245.37 774.38,244.39 782.78,272.42 791.18,309.76 799.58,304.38 807.99,314.78 816.39,316.86 824.79,315.27 833.19,321.03 841.59,322.25 850,316.86 858.4,307.31" fill="none" stroke="#000" stroke-width="2.25" stroke-linejoin="round" stroke-linecap="round"/>
<rect x="405.4" y="23.2" width="450.6" height="165.4" fill="#fff" stroke="#d0d0d0" stroke-width="1"/>
<rect x="417.5" y="33.15" width="28" height="8.8" fill="#FFD97F" stroke="#000" stroke-width="1.4"/>
<text x="447.8" y="41.8" font-size="13.3" textLength="294.7" lengthAdjust="spacingAndGlyphs">Bančni krediti v BDP, 2 letna povp. sprememba</text>
<rect x="417.5" y="60.85" width="28" height="8.8" fill="#FC7B7D" stroke="#000" stroke-width="1.4"/>
<text x="447.8" y="69.5" font-size="13.3" textLength="340.7" lengthAdjust="spacingAndGlyphs">Skupna realna rast kreditov, 2 letna povp. sprememba</text>
<rect x="417.5" y="88.55" width="28" height="8.8" fill="#78CFA2" stroke="#000" stroke-width="1.4"/>
<text x="447.8" y="97.2" font-size="13.3" textLength="324" lengthAdjust="spacingAndGlyphs">Stroški servisiranja dolga, 2 letna povp. sprememba</text>
<rect x="417.5" y="116.25" width="28" height="8.8" fill="#B594D2" stroke="#000" stroke-width="1.4"/>
<text x="447.8" y="124.9" font-size="13.3" textLength="399.2" lengthAdjust="spacingAndGlyphs">Cene nepremičnin glede na dohodek, 3 letna povp. sprememba</text>
<rect x="417.5" y="143.95" width="28" height="8.8" fill="#79CFF3" stroke="#000" stroke-width="1.4"/>
<text x="447.8" y="152.6" font-size="13.3" textLength="119.4" lengthAdjust="spacingAndGlyphs">Tekoči račun v BDP</text>
<path d="M417.5 175.9H445.5" stroke="#000" stroke-width="2" fill="none"/>
<text x="447.8" y="180.3" font-size="13.3" textLength="126.8" lengthAdjust="spacingAndGlyphs">Sestavljeni indikator</text>
<text x="5.55" y="21.55" font-size="14.1" textLength="19.0" lengthAdjust="spacingAndGlyphs">2,0</text>
<text x="5.55" y="82.76" font-size="14.1" textLength="19.0" lengthAdjust="spacingAndGlyphs">1,5</text>
<text x="5.55" y="143.97" font-size="14.1" textLength="19.0" lengthAdjust="spacingAndGlyphs">1,0</text>
<text x="5.55" y="205.19" font-size="14.1" textLength="19.0" lengthAdjust="spacingAndGlyphs">0,5</text>
<text x="5.55" y="266.4" font-size="14.1" textLength="19.0" lengthAdjust="spacingAndGlyphs">0,0</text>
<text x="0.95" y="327.61" font-size="14.1" textLength="23.6" lengthAdjust="spacingAndGlyphs">-0,5</text>
<text x="0.95" y="388.82" font-size="14.1" textLength="23.6" lengthAdjust="spacingAndGlyphs">-1,0</text>
<text x="0.95" y="450.04" font-size="14.1" textLength="23.6" lengthAdjust="spacingAndGlyphs">-1,5</text>
<text x="0.95" y="511.25" font-size="14.1" textLength="23.6" lengthAdjust="spacingAndGlyphs">-2,0</text>
<text transform="translate(48.2 547.2) rotate(-90)" font-size="13.4" textLength="29.5" lengthAdjust="spacingAndGlyphs">2001</text>
<text transform="translate(81.81 547.2) rotate(-90)" font-size="13.4" textLength="29.5" lengthAdjust="spacingAndGlyphs">2002</text>
<text transform="translate(115.42 547.2) rotate(-90)" font-size="13.4" textLength="29.5" lengthAdjust="spacingAndGlyphs">2003</text>
<text transform="translate(149.03 547.2) rotate(-90)" font-size="13.4" textLength="29.5" lengthAdjust="spacingAndGlyphs">2004</text>
<text transform="translate(182.63 547.2) rotate(-90)" font-size="13.4" textLength="29.5" lengthAdjust="spacingAndGlyphs">2005</text>
<text transform="translate(216.24 547.2) rotate(-90)" font-size="13.4" textLength="29.5" lengthAdjust="spacingAndGlyphs">2006</text>
<text transform="translate(249.85 547.2) rotate(-90)" font-size="13.4" textLength="29.5" lengthAdjust="spacingAndGlyphs">2007</text>
<text transform="translate(283.46 547.2) rotate(-90)" font-size="13.4" textLength="29.5" lengthAdjust="spacingAndGlyphs">2008</text>
<text transform="translate(317.07 547.2) rotate(-90)" font-size="13.4" textLength="29.5" lengthAdjust="spacingAndGlyphs">2009</text>
<text transform="translate(350.67 547.2) rotate(-90)" font-size="13.4" textLength="29.5" lengthAdjust="spacingAndGlyphs">2010</text>
<text transform="translate(384.28 547.2) rotate(-90)" font-size="13.4" textLength="29.5" lengthAdjust="spacingAndGlyphs">2011</text>
<text transform="translate(417.89 547.2) rotate(-90)" font-size="13.4" textLength="29.5" lengthAdjust="spacingAndGlyphs">2012</text>
<text transform="translate(451.5 547.2) rotate(-90)" font-size="13.4" textLength="29.5" lengthAdjust="spacingAndGlyphs">2013</text>
<text transform="translate(485.11 547.2) rotate(-90)" font-size="13.4" textLength="29.5" lengthAdjust="spacingAndGlyphs">2014</text>
<text transform="translate(518.72 547.2) rotate(-90)" font-size="13.4" textLength="29.5" lengthAdjust="spacingAndGlyphs">2015</text>
<text transform="translate(552.32 547.2) rotate(-90)" font-size="13.4" textLength="29.5" lengthAdjust="spacingAndGlyphs">2016</text>
<text transform="translate(585.93 547.2) rotate(-90)" font-size="13.4" textLength="29.5" lengthAdjust="spacingAndGlyphs">2017</text>
<text transform="translate(619.54 547.2) rotate(-90)" font-size="13.4" textLength="29.5" lengthAdjust="spacingAndGlyphs">2018</text>
<text transform="translate(653.15 547.2) rotate(-90)" font-size="13.4" textLength="29.5" lengthAdjust="spacingAndGlyphs">2019</text>
<text transform="translate(686.76 547.2) rotate(-90)" font-size="13.4" textLength="29.5" lengthAdjust="spacingAndGlyphs">2020</text>
<text transform="translate(720.36 547.2) rotate(-90)" font-size="13.4" textLength="29.5" lengthAdjust="spacingAndGlyphs">2021</text>
<text transform="translate(753.97 547.2) rotate(-90)" font-size="13.4" textLength="29.5" lengthAdjust="spacingAndGlyphs">2022</text>
<text transform="translate(787.58 547.2) rotate(-90)" font-size="13.4" textLength="29.5" lengthAdjust="spacingAndGlyphs">2023</text>
<text transform="translate(821.19 547.2) rotate(-90)" font-size="13.4" textLength="29.5" lengthAdjust="spacingAndGlyphs">2024</text>
<text transform="translate(854.8 547.2) rotate(-90)" font-size="13.4" textLength="29.5" lengthAdjust="spacingAndGlyphs">2025</text>
</svg></body></html>
